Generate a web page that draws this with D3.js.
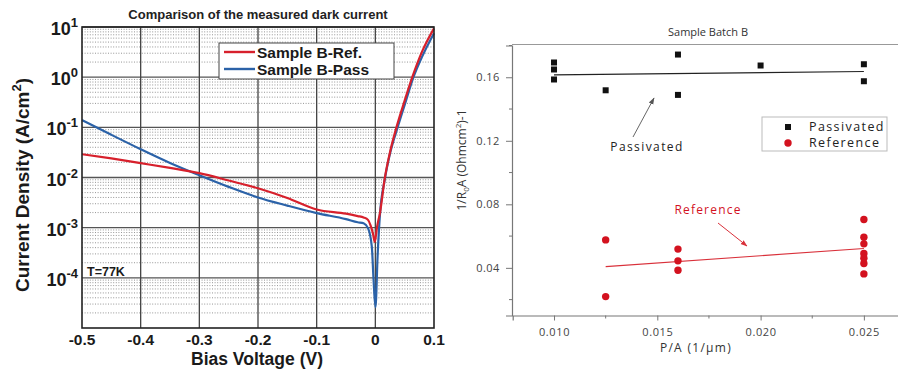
<!DOCTYPE html>
<html>
<head>
<meta charset="utf-8">
<script src="https://cdn.jsdelivr.net/npm/d3@7"></script>
<style>
  html, body { margin: 0; padding: 0; background: #fff; }
  svg { display: block; }
</style>
</head>
<body>
<svg id="chart" width="898" height="369"></svg>
<script>
// ---- Left panel: dark current density vs bias voltage (77 K) ----
const biasRef = [-0.5, -0.45, -0.4, -0.35, -0.3, -0.25, -0.2, -0.15, -0.1, -0.05, -0.03, -0.02, -0.0125, -0.008, -0.004, -0.001, 0.003, 0.008, 0.016, 0.025, 0.036, 0.05, 0.063, 0.08, 0.1];
const currentRef = [0.0291, 0.0240, 0.0193, 0.0155, 0.0122, 0.0087, 0.0061, 0.0039, 0.0023, 0.0019, 0.0017, 0.0016, 0.00143, 0.0011, 0.00076, 0.00052, 0.00105, 0.0020, 0.0095, 0.032, 0.1, 0.34, 1.0, 3.3, 9.4];

const biasPass = [-0.5, -0.45, -0.4, -0.35, -0.3, -0.25, -0.2, -0.15, -0.1, -0.05, -0.03, -0.02, -0.0125, -0.006, -0.003, 0.0002, 0.004, 0.008, 0.016, 0.025, 0.038, 0.05, 0.065, 0.08, 0.1];
const currentPass = [0.140, 0.071, 0.0366, 0.0195, 0.0111, 0.0065, 0.0040, 0.00275, 0.00195, 0.00148, 0.00128, 0.00122, 0.00098, 0.00042, 0.00009, 0.000026, 0.0003, 0.0019, 0.009, 0.03, 0.1, 0.28, 1.0, 2.6, 7.5];

const biasTicks = [-0.5, -0.4, -0.3, -0.2, -0.1, 0, 0.1];
const decadeExps = [1, 0, -1, -2, -3, -4];

// ---- Right panel: 1/R0A vs perimeter/area ----
const passPA = [0.010, 0.010, 0.010, 0.0125, 0.016, 0.016, 0.020, 0.025, 0.025];
const passVal = [0.1693, 0.1649, 0.1586, 0.1518, 0.1743, 0.1489, 0.1674, 0.1682, 0.1575];
const passFitPA = [0.010, 0.025];
const passFitVal = [0.1615, 0.1636];

const refPA = [0.0125, 0.0125, 0.016, 0.016, 0.016, 0.025, 0.025, 0.025, 0.025, 0.025, 0.025, 0.025];
const refVal = [0.0576, 0.0219, 0.0518, 0.0444, 0.0385, 0.0704, 0.0593, 0.0551, 0.0490, 0.0461, 0.0427, 0.0362];
const refFitPA = [0.0125, 0.025];
const refFitVal = [0.0408, 0.0522];

const paTicks = [0.010, 0.015, 0.020, 0.025];
const paMinor = [0.0125, 0.0175, 0.0225];
const rTicks = [0.04, 0.08, 0.12, 0.16];
const rMinor = [0.02, 0.06, 0.10, 0.14, 0.18];

const svg = d3.select("#chart");
const boldFont = "'Liberation Sans', Arial, sans-serif";
const lightFont = "'Open Sans', 'Noto Sans', sans-serif";

// ================= Left panel =================
const L = { left: 82, right: 434, top: 27, bottom: 328 };
const xV = d3.scaleLinear().domain([-0.5, 0.1]).range([L.left, L.right]);
const yJ = d3.scaleLog().domain([1e-5, 10]).range([L.bottom, L.top]);

const gL = svg.append("g");

// minor (dotted) grid at 2..9 x 10^n
const minorVals = [];
for (let e = -5; e <= 0; e++) for (let k = 2; k <= 9; k++) minorVals.push(k * Math.pow(10, e));
gL.append("g").selectAll("line").data(minorVals).join("line")
  .attr("x1", L.left).attr("x2", L.right)
  .attr("y1", d => yJ(d)).attr("y2", d => yJ(d))
  .attr("stroke", "#8a8a8a").attr("stroke-width", 0.9)
  .attr("stroke-dasharray", "1,1.6");

// decade grid
gL.append("g").selectAll("line").data(decadeExps.map(e => Math.pow(10, e))).join("line")
  .attr("x1", L.left).attr("x2", L.right)
  .attr("y1", d => yJ(d)).attr("y2", d => yJ(d))
  .attr("stroke", "#555").attr("stroke-width", 1.3);

// vertical grid
gL.append("g").selectAll("line").data(biasTicks.slice(1, -1)).join("line")
  .attr("x1", d => xV(d)).attr("x2", d => xV(d))
  .attr("y1", L.top).attr("y2", L.bottom)
  .attr("stroke", "#444").attr("stroke-width", 1.3);

// curves
const lineJ = d3.line().x(d => xV(d[0])).y(d => yJ(d[1])).curve(d3.curveMonotoneX);
const refPts = biasRef.map((v, i) => [v, currentRef[i]]);
const passPts = biasPass.map((v, i) => [v, currentPass[i]]);
gL.append("path").datum(passPts).attr("d", lineJ)
  .attr("fill", "none").attr("stroke", "#2b62a8").attr("stroke-width", 2.2);
gL.append("path").datum(refPts).attr("d", lineJ)
  .attr("fill", "none").attr("stroke", "#d7202c").attr("stroke-width", 2.2);

// frame
gL.append("rect").attr("x", L.left).attr("y", L.top)
  .attr("width", L.right - L.left).attr("height", L.bottom - L.top)
  .attr("fill", "none").attr("stroke", "#222").attr("stroke-width", 1.6);

// x tick labels
gL.append("g").selectAll("text").data(biasTicks).join("text")
  .attr("x", d => xV(d)).attr("y", 345)
  .attr("text-anchor", "middle")
  .attr("font-family", boldFont).attr("font-weight", "bold").attr("font-size", 15.5)
  .attr("fill", "#1a1a1a")
  .text(d => d === 0 ? "0" : d3.format(".1f")(d).replace("−", "-"));

// y tick labels: 10^n
const yLab = gL.append("g").selectAll("text").data(decadeExps).join("text")
  .attr("y", d => yJ(Math.pow(10, d)) + 8)
  .attr("x", 78)
  .attr("text-anchor", "end")
  .attr("font-family", boldFont).attr("font-weight", "bold")
  .attr("fill", "#1a1a1a");
yLab.append("tspan").attr("font-size", 18).text("10");
yLab.append("tspan").attr("font-size", 13).attr("dy", -8).text(d => d < 0 ? "-" + (-d) : String(d));

// axis titles
gL.append("text").attr("x", 257).attr("y", 364.5)
  .attr("text-anchor", "middle")
  .attr("font-family", boldFont).attr("font-weight", "bold").attr("font-size", 17.5)
  .attr("fill", "#1a1a1a").text("Bias Voltage (V)");

const yTitle = gL.append("text")
  .attr("transform", "translate(29,185) rotate(-90)")
  .attr("text-anchor", "middle")
  .attr("font-family", boldFont).attr("font-weight", "bold").attr("font-size", 19)
  .attr("fill", "#1a1a1a");
yTitle.append("tspan").text("Current Density (A/cm");
yTitle.append("tspan").attr("font-size", 13).attr("dy", -8).text("2");
yTitle.append("tspan").attr("dy", 8).text(")");

gL.append("text").attr("x", 258).attr("y", 19)
  .attr("text-anchor", "middle")
  .attr("font-family", boldFont).attr("font-weight", "bold").attr("font-size", 13)
  .attr("fill", "#222").text("Comparison of the measured dark current");

gL.append("text").attr("x", 87).attr("y", 276)
  .attr("font-family", boldFont).attr("font-weight", "bold").attr("font-size", 12.5)
  .attr("fill", "#1a1a1a").text("T=77K");

// legend
const legL = gL.append("g");
legL.append("rect").attr("x", 219).attr("y", 43).attr("width", 175).attr("height", 36)
  .attr("fill", "#fff").attr("stroke", "#444").attr("stroke-width", 1);
const legItems = [["Sample B-Ref.", "#d7202c", 52], ["Sample B-Pass", "#2b62a8", 69]];
legItems.forEach(([label, color, y]) => {
  legL.append("line").attr("x1", 224).attr("x2", 255).attr("y1", y).attr("y2", y)
    .attr("stroke", color).attr("stroke-width", 2.4);
  legL.append("text").attr("x", 257).attr("y", y + 5.5)
    .attr("font-family", boldFont).attr("font-weight", "bold").attr("font-size", 15.5)
    .attr("fill", "#1a1a1a").text(label);
});

// ================= Right panel =================
const R = { left: 512, top: 45.5, bottom: 315.5 };
const xP = d3.scaleLinear().domain([0.008, 0.027]).range([512.7, 905.2]);
const yR = d3.scaleLinear().domain([0.01, 0.18]).range([R.bottom, R.top]);
const gR = svg.append("g");
const axisCol = "#777";
const labCol = "#444";

// top frame line
gR.append("line").attr("x1", R.left).attr("x2", 898).attr("y1", 44.5).attr("y2", 44.5)
  .attr("stroke", "#999").attr("stroke-width", 1);

const xAx = d3.axisBottom(xP).tickValues(paTicks).tickSize(5).tickFormat(d3.format(".3f"));
const xAxG = gR.append("g").attr("transform", `translate(0,${R.bottom})`).call(xAx);
xAxG.select(".domain").attr("stroke", axisCol).attr("stroke-width", 1.2);
xAxG.selectAll(".tick line").attr("stroke", axisCol);
xAxG.selectAll(".tick text").attr("font-family", lightFont).attr("font-size", 11)
  .attr("fill", labCol).attr("letter-spacing", 0.6).attr("dy", "1.1em");
gR.append("g").selectAll("line").data(paMinor).join("line")
  .attr("x1", d => xP(d)).attr("x2", d => xP(d))
  .attr("y1", R.bottom).attr("y2", R.bottom + 3)
  .attr("stroke", axisCol);

const yAx = d3.axisLeft(yR).tickValues(rTicks).tickSize(6).tickFormat(d3.format(".2f"));
const yAxG = gR.append("g").attr("transform", `translate(${R.left},0)`).call(yAx);
yAxG.select(".domain").attr("stroke", axisCol).attr("stroke-width", 1.2);
yAxG.selectAll(".tick line").attr("stroke", axisCol);
yAxG.selectAll(".tick text").attr("font-family", lightFont).attr("font-size", 11)
  .attr("fill", labCol).attr("letter-spacing", 0.4).attr("dx", "-0.3em");
gR.append("g").selectAll("line").data(rMinor).join("line")
  .attr("x1", R.left - 3).attr("x2", R.left)
  .attr("y1", d => yR(d)).attr("y2", d => yR(d))
  .attr("stroke", axisCol);

// fit lines
const fitLine = d3.line().x(d => xP(d[0])).y(d => yR(d[1]));
gR.append("path").datum(passFitPA.map((p, i) => [p, passFitVal[i]])).attr("d", fitLine)
  .attr("stroke", "#222").attr("stroke-width", 1.1).attr("fill", "none");
gR.append("path").datum(refFitPA.map((p, i) => [p, refFitVal[i]])).attr("d", fitLine)
  .attr("stroke", "#d9303a").attr("stroke-width", 1.1).attr("fill", "none");

// data markers
gR.append("g").selectAll("rect").data(passPA.map((p, i) => [p, passVal[i]])).join("rect")
  .attr("x", d => xP(d[0]) - 3).attr("y", d => yR(d[1]) - 3)
  .attr("width", 6).attr("height", 6).attr("fill", "#111");
gR.append("g").selectAll("circle").data(refPA.map((p, i) => [p, refVal[i]])).join("circle")
  .attr("cx", d => xP(d[0])).attr("cy", d => yR(d[1])).attr("r", 3.7)
  .attr("fill", "#d3121f");

// annotations
const defs = svg.append("defs");
[["arrowGray", "#555"], ["arrowRed", "#d9303a"]].forEach(([id, c]) => {
  defs.append("marker").attr("id", id).attr("viewBox", "0 0 10 10")
    .attr("refX", 9).attr("refY", 5).attr("markerWidth", 7).attr("markerHeight", 7)
    .attr("orient", "auto-start-reverse")
    .append("path").attr("d", "M0,1.5 L10,5 L0,8.5 Z").attr("fill", c);
});
gR.append("line").attr("x1", 633).attr("y1", 137).attr("x2", 654).attr("y2", 98)
  .attr("stroke", "#666").attr("stroke-width", 1).attr("marker-end", "url(#arrowGray)");
gR.append("text").attr("x", 647).attr("y", 151).attr("text-anchor", "middle")
  .attr("font-family", lightFont).attr("font-size", 12).attr("letter-spacing", 1.4)
  .attr("fill", "#222").text("Passivated");
gR.append("line").attr("x1", 718).attr("y1", 223).attr("x2", 747).attr("y2", 246)
  .attr("stroke", "#d9303a").attr("stroke-width", 1).attr("marker-end", "url(#arrowRed)");
gR.append("text").attr("x", 708).attr("y", 214).attr("text-anchor", "middle")
  .attr("font-family", lightFont).attr("font-size", 12).attr("letter-spacing", 1.2)
  .attr("fill", "#d3121f").text("Reference");

// title and axis labels
gR.append("text").attr("x", 708).attr("y", 36).attr("text-anchor", "middle")
  .attr("font-family", lightFont).attr("font-size", 11).attr("fill", "#333")
  .text("Sample Batch B");
gR.append("text").attr("x", 696).attr("y", 352).attr("text-anchor", "middle")
  .attr("font-family", lightFont).attr("font-size", 12).attr("letter-spacing", 1.3)
  .attr("fill", "#333").text("P/A (1/μm)");
const yR_t = gR.append("text").attr("transform", "translate(466,160) rotate(-90)")
  .attr("text-anchor", "middle")
  .attr("font-family", lightFont).attr("font-size", 12).attr("fill", "#333");
yR_t.append("tspan").text("1/R");
yR_t.append("tspan").attr("font-size", 8).attr("dy", 3).text("0");
yR_t.append("tspan").attr("dy", -3).text("A (Ohmcm");
yR_t.append("tspan").attr("font-size", 8).attr("dy", -5).text("2");
yR_t.append("tspan").attr("dy", 5).text(")-1");

// legend
const legR = gR.append("g");
legR.append("rect").attr("x", 762).attr("y", 117).attr("width", 125).attr("height", 34)
  .attr("fill", "#fff").attr("stroke", "#bbb").attr("stroke-width", 1);
legR.append("rect").attr("x", 785).attr("y", 124).attr("width", 6).attr("height", 6).attr("fill", "#111");
legR.append("circle").attr("cx", 788).attr("cy", 143).attr("r", 3.7).attr("fill", "#d3121f");
legR.append("text").attr("x", 809).attr("y", 131).attr("font-family", lightFont)
  .attr("font-size", 12.5).attr("letter-spacing", 1.4).attr("fill", "#222").text("Passivated");
legR.append("text").attr("x", 809).attr("y", 147).attr("font-family", lightFont)
  .attr("font-size", 12.5).attr("letter-spacing", 1.4).attr("fill", "#222").text("Reference");
</script>
</body>
</html>
